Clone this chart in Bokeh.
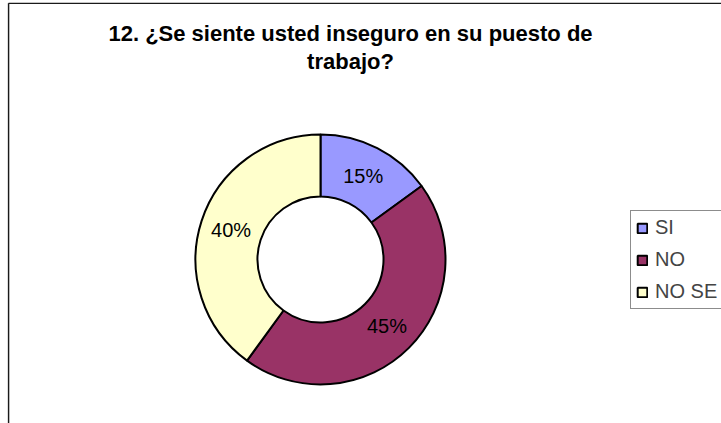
from math import pi
import numpy as np
from bokeh.plotting import figure
from bokeh.models import Range1d, Label, Legend, LegendItem, ColumnDataSource
from bokeh.core.properties import value
from bokeh.embed import file_html
from bokeh.resources import INLINE

# ---- data ----
categories = ["SI", "NO", "NO SE"]
percent = [15, 45, 40]
colors = ["#9999FF", "#993366", "#FFFFCC"]
title_lines = ["12. ¿Se siente usted inseguro en su puesto de", "trabajo?"]

# ---- layout (page pixels) ----
W, H = 714, 421
LEFT, TOP = 7, 2


def X(px):
    return px - LEFT


def Y(py):
    return TOP + H - py


FONT = "Liberation Sans"

p = figure(width=W, height=H, x_range=Range1d(0, W), y_range=Range1d(0, H),
           x_axis_type=None, y_axis_type=None, output_backend="svg",
           toolbar_location=None, min_border=0, margin=(TOP, 0, 0, LEFT))
p.outline_line_color = None
p.grid.visible = False
p.background_fill_color = "white"
p.border_fill_color = "white"

# chart-area border (top and left visible)
p.segment(x0=[X(8), X(8)], y0=[Y(2.7), Y(2.7)], x1=[W, X(8)], y1=[Y(2.7), -5],
          line_color="#1a1a1a", line_width=1.6)

cx, cy = X(320), Y(259)
frac = np.array(percent, dtype=float) / sum(percent)
ends = np.cumsum(frac) * 2 * pi
starts = ends - frac * 2 * pi
start_angle = pi / 2 - starts
end_angle = pi / 2 - ends
mid = (start_angle + end_angle) / 2

src = ColumnDataSource(dict(
    cat=categories,
    pct=[f"{v}%" for v in percent],
    color=colors,
    start=start_angle,
    end=end_angle,
    lx=cx + 94 * np.cos(mid),
    ly=cy + 94 * np.sin(mid),
))

r = p.annular_wedge(x=cx, y=cy, inner_radius=63, outer_radius=125,
                    start_angle="start", end_angle="end", direction="clock",
                    fill_color="color", line_color="black", line_width=2,
                    source=src)

p.text(x="lx", y="ly", text="pct", text_align="center", text_baseline="middle",
       text_font=value(FONT), text_font_size="20px", text_color="black",
       source=src)

for i, (line, py) in enumerate(zip(title_lines, [33, 61])):
    p.add_layout(Label(x=X(350), y=Y(py), text=line, text_align="center",
                       text_baseline="middle", text_font=FONT,
                       text_font_size="22px", text_font_style="bold",
                       text_color="black"))

legend = Legend(
    items=[LegendItem(label=c, renderers=[r], index=i) for i, c in enumerate(categories)],
    location=(X(630), Y(309)),
    margin=0, padding=5, spacing=9,
    glyph_width=12, glyph_height=12, label_standoff=7,
    label_text_font=FONT, label_text_font_size="20px",
    border_line_color="#1a1a1a", border_line_width=1,
    background_fill_color="white", background_fill_alpha=1.0,
)
p.add_layout(legend)

open("out.html", "w").write(file_html(p, INLINE))
